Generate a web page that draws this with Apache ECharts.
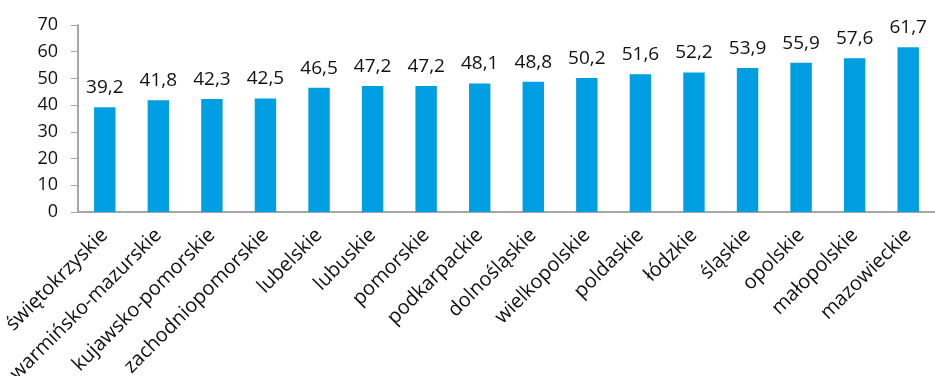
<!DOCTYPE html>
<html>
<head>
<meta charset="utf-8">
<script src="https://cdn.jsdelivr.net/npm/echarts@6/dist/echarts.min.js"></script>
<style>
  html, body { margin: 0; padding: 0; background: #fff; }
  #chart { width: 935px; height: 376px; }
</style>
</head>
<body>
<div id="chart"></div>
<script>
  var regions = ['świętokrzyskie', 'warmińsko-mazurskie', 'kujawsko-pomorskie', 'zachodniopomorskie',
    'lubelskie', 'lubuskie', 'pomorskie', 'podkarpackie', 'dolnośląskie', 'wielkopolskie',
    'poldaskie', 'łódzkie', 'śląskie', 'opolskie', 'małopolskie', 'mazowieckie']
  var values = [39.2, 41.8, 42.3, 42.5, 46.5, 47.2, 47.2, 48.1, 48.8, 50.2, 51.6, 52.2, 53.9, 55.9, 57.6, 61.7]
  var yTicks = [0, 10, 20, 30, 40, 50, 60, 70]

  var chart = echarts.init(document.getElementById('chart'))
  chart.setOption({
    animation: false,
    textStyle: { fontFamily: 'Open Sans' },
    grid: { left: 78, right: 0, top: 25, bottom: 164, outerBoundsMode: 'none', containLabel: false },
    xAxis: {
      type: 'category',
      data: regions,
      axisLine: { lineStyle: { color: '#a6a6a6', width: 2 } },
      axisTick: { lineStyle: { color: '#a6a6a6' }, length: 6 },
      axisLabel: { rotate: 45, interval: 0, color: '#111', fontSize: 20, margin: 20 }
    },
    yAxis: {
      type: 'value',
      min: yTicks[0],
      max: yTicks[yTicks.length - 1],
      interval: 10,
      splitLine: { show: false },
      axisLine: { show: true, lineStyle: { color: '#a6a6a6', width: 2 } },
      axisTick: { show: true, lineStyle: { color: '#a6a6a6' }, length: 7 },
      axisLabel: { color: '#111', fontSize: 18, margin: 20 }
    },
    series: [{
      type: 'bar',
      data: values,
      barWidth: '40%',
      itemStyle: { color: '#009fe3' },
      label: {
        show: true,
        position: 'top',
        distance: 10,
        color: '#111',
        fontSize: 19,
        formatter: function (p) { return p.value.toFixed(1).replace('.', ',') }
      }
    }]
  })
</script>
</body>
</html>
